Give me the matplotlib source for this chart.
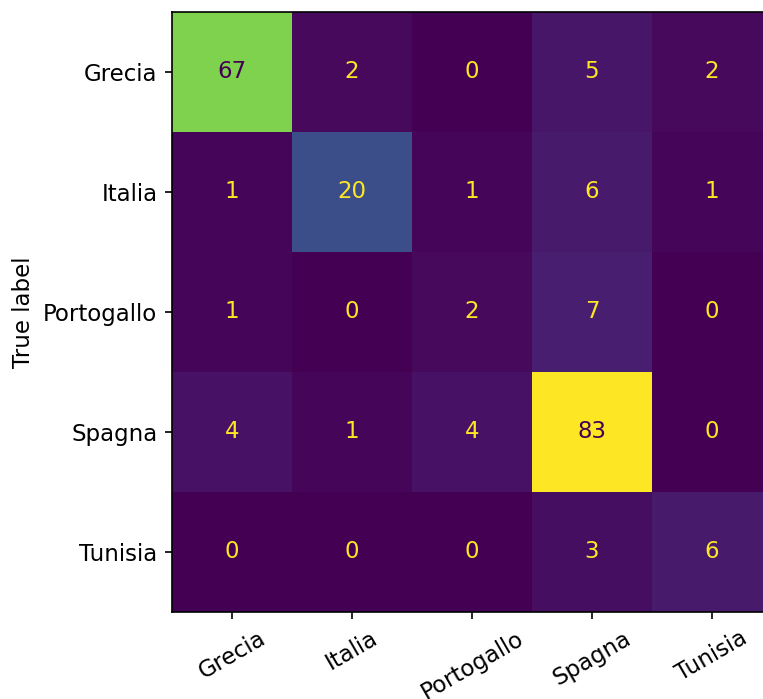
import matplotlib
matplotlib.use("Agg")
import matplotlib.pyplot as plt
import numpy as np

labels = ["Grecia", "Italia", "Portogallo", "Spagna", "Tunisia"]
cm = np.array([
    [67, 2, 0, 5, 2],
    [1, 20, 1, 6, 1],
    [1, 0, 2, 7, 0],
    [4, 1, 4, 83, 0],
    [0, 0, 0, 3, 6],
])

if __name__ == "__main__":
    plt.rcParams["font.size"] = 11
    dpi = 150
    fig = plt.figure(figsize=(763 / dpi, 699 / dpi), dpi=dpi)
    ax = fig.add_axes([172 / 763, (699 - 612) / 699, 600 / 763, 600 / 699])

    cmap = plt.get_cmap("viridis")
    im = ax.imshow(cm, cmap=cmap, interpolation="nearest")

    # dark text on bright cells, bright text on dark cells
    thresh = (cm.max() + cm.min()) / 2.0
    cmap_min, cmap_max = cmap(0), cmap(1.0)
    for i in range(cm.shape[0]):
        for j in range(cm.shape[1]):
            color = cmap_min if cm[i, j] >= thresh else cmap_max
            ax.text(j, i, f"{cm[i, j]}", ha="center", va="center",
                    color=color)

    ax.set_xticks(np.arange(len(labels)))
    ax.set_yticks(np.arange(len(labels)))
    ax.set_xticklabels(labels, rotation=30)
    ax.set_yticklabels(labels)
    ax.set_ylabel("True label")
    ax.set_ylim(len(labels) - 0.5, -0.5)

    fig.savefig("out.png", dpi=dpi)
